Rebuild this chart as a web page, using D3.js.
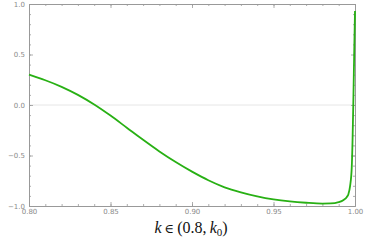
<!DOCTYPE html>
<html>
<head>
<meta charset="utf-8">
<script src="https://cdn.jsdelivr.net/npm/d3@7"></script>
<style>
  body { margin: 0; background: #fff; }
  svg { display: block; }
</style>
</head>
<body>
<svg id="chart" width="375" height="240"></svg>
<script>
// curve values
const kVals = [0.80, 0.81, 0.82, 0.83, 0.84, 0.85, 0.86, 0.87, 0.88, 0.89,
  0.90, 0.91, 0.92, 0.93, 0.94, 0.95, 0.96, 0.97, 0.98, 0.985,
  0.99, 0.993, 0.995, 0.996, 0.997, 0.998, 0.9985, 0.999, 0.9995, 1.00]
const fVals = [0.30, 0.245, 0.18, 0.10, 0.005, -0.105, -0.225, -0.345, -0.46, -0.565,
  -0.66, -0.745, -0.815, -0.865, -0.905, -0.935, -0.955, -0.968, -0.976, -0.975,
  -0.962, -0.94, -0.91, -0.88, -0.80, -0.62, -0.35, 0.05, 0.5, 0.93]
const xTicks = [0.80, 0.85, 0.90, 0.95, 1.00]
const yTicks = [-1.0, -0.5, 0.0, 0.5, 1.0]
const xMinor = d3.range(0.80, 1.0001, 0.01)
const yMinor = d3.range(-1.0, 1.0001, 0.1)

const svg = d3.select('#chart')
const pl = 29, pr = 355, pt = 4, pb = 206

const x = d3.scaleLinear().domain([0.80, 1.00]).range([pl, pr])
const y = d3.scaleLinear().domain([-1, 1]).range([pb, pt])

const frameCol = '#999'
const labelCol = '#8a8a8a'

// zero line
svg.append('line')
  .attr('x1', pl).attr('x2', pr)
  .attr('y1', y(0)).attr('y2', y(0))
  .attr('stroke', '#e6e6e6').attr('stroke-width', 1)

// frame axes with inward ticks
function frameAxis (axis, scale, ticks, size, transform, labels) {
  const g = svg.append('g').attr('transform', transform)
    .call(axis(scale).tickValues(ticks).tickSize(size).tickSizeOuter(0)
      .tickFormat(labels ? d3.format('.2f') : ''))
  g.select('.domain').attr('stroke', frameCol)
  g.selectAll('.tick line').attr('stroke', frameCol).attr('stroke-width', 0.8)
  g.selectAll('.tick text').attr('fill', labelCol)
    .style('font-family', '"DejaVu Sans", sans-serif').style('font-size', '7px')
  return g
}

// bottom
frameAxis(d3.axisBottom, x, xMinor, -2, `translate(0,${pb})`, false)
const bx = frameAxis(d3.axisBottom, x, xTicks, -4, `translate(0,${pb})`, true)
bx.selectAll('.tick text').attr('y', 3).attr('dy', '0.71em')
// top
frameAxis(d3.axisTop, x, xMinor, -2, `translate(0,${pt})`, false)
frameAxis(d3.axisTop, x, xTicks, -4, `translate(0,${pt})`, false)
// left
frameAxis(d3.axisLeft, y, yMinor, -2, `translate(${pl},0)`, false)
const ly = frameAxis(d3.axisLeft, y, yTicks, -4, `translate(${pl},0)`, false)
ly.selectAll('.tick text').remove()
ly.selectAll('.tick').append('text')
  .attr('x', -4).attr('dy', '0.32em')
  .attr('text-anchor', 'end')
  .attr('fill', labelCol)
  .style('font-family', '"DejaVu Sans", sans-serif').style('font-size', '7px')
  .text(d => d3.format('.1f')(d).replace('-', '\u2212'))
// right
frameAxis(d3.axisRight, y, yMinor, -2, `translate(${pr},0)`, false)
frameAxis(d3.axisRight, y, yTicks, -4, `translate(${pr},0)`, false)

// curve
const pts = kVals.map((k, i) => [k, fVals[i]])
svg.append('path')
  .datum(pts)
  .attr('fill', 'none')
  .attr('stroke', '#28b014')
  .attr('stroke-width', 1.8)
  .attr('d', d3.line().x(d => x(d[0])).y(d => y(d[1])).curve(d3.curveMonotoneX))

// axis label
const lab = svg.append('text')
  .attr('x', 191).attr('y', 233)
  .attr('text-anchor', 'middle')
  .style('font-family', '"Liberation Serif", "DejaVu Serif", serif')
  .style('font-size', '16px')
  .attr('fill', '#111')
lab.append('tspan').style('font-style', 'italic').text('k')
lab.append('tspan').attr('dx', 3).style('font-family', '"DejaVu Serif", serif').style('font-size', '13px').text('\u2208')
lab.append('tspan').attr('dx', 3).text('(0.8,\u2009')
lab.append('tspan').style('font-style', 'italic').text('k')
lab.append('tspan').attr('dy', 3).style('font-size', '11px').text('0')
lab.append('tspan').attr('dy', -3).text(')')
</script>
</body>
</html>
